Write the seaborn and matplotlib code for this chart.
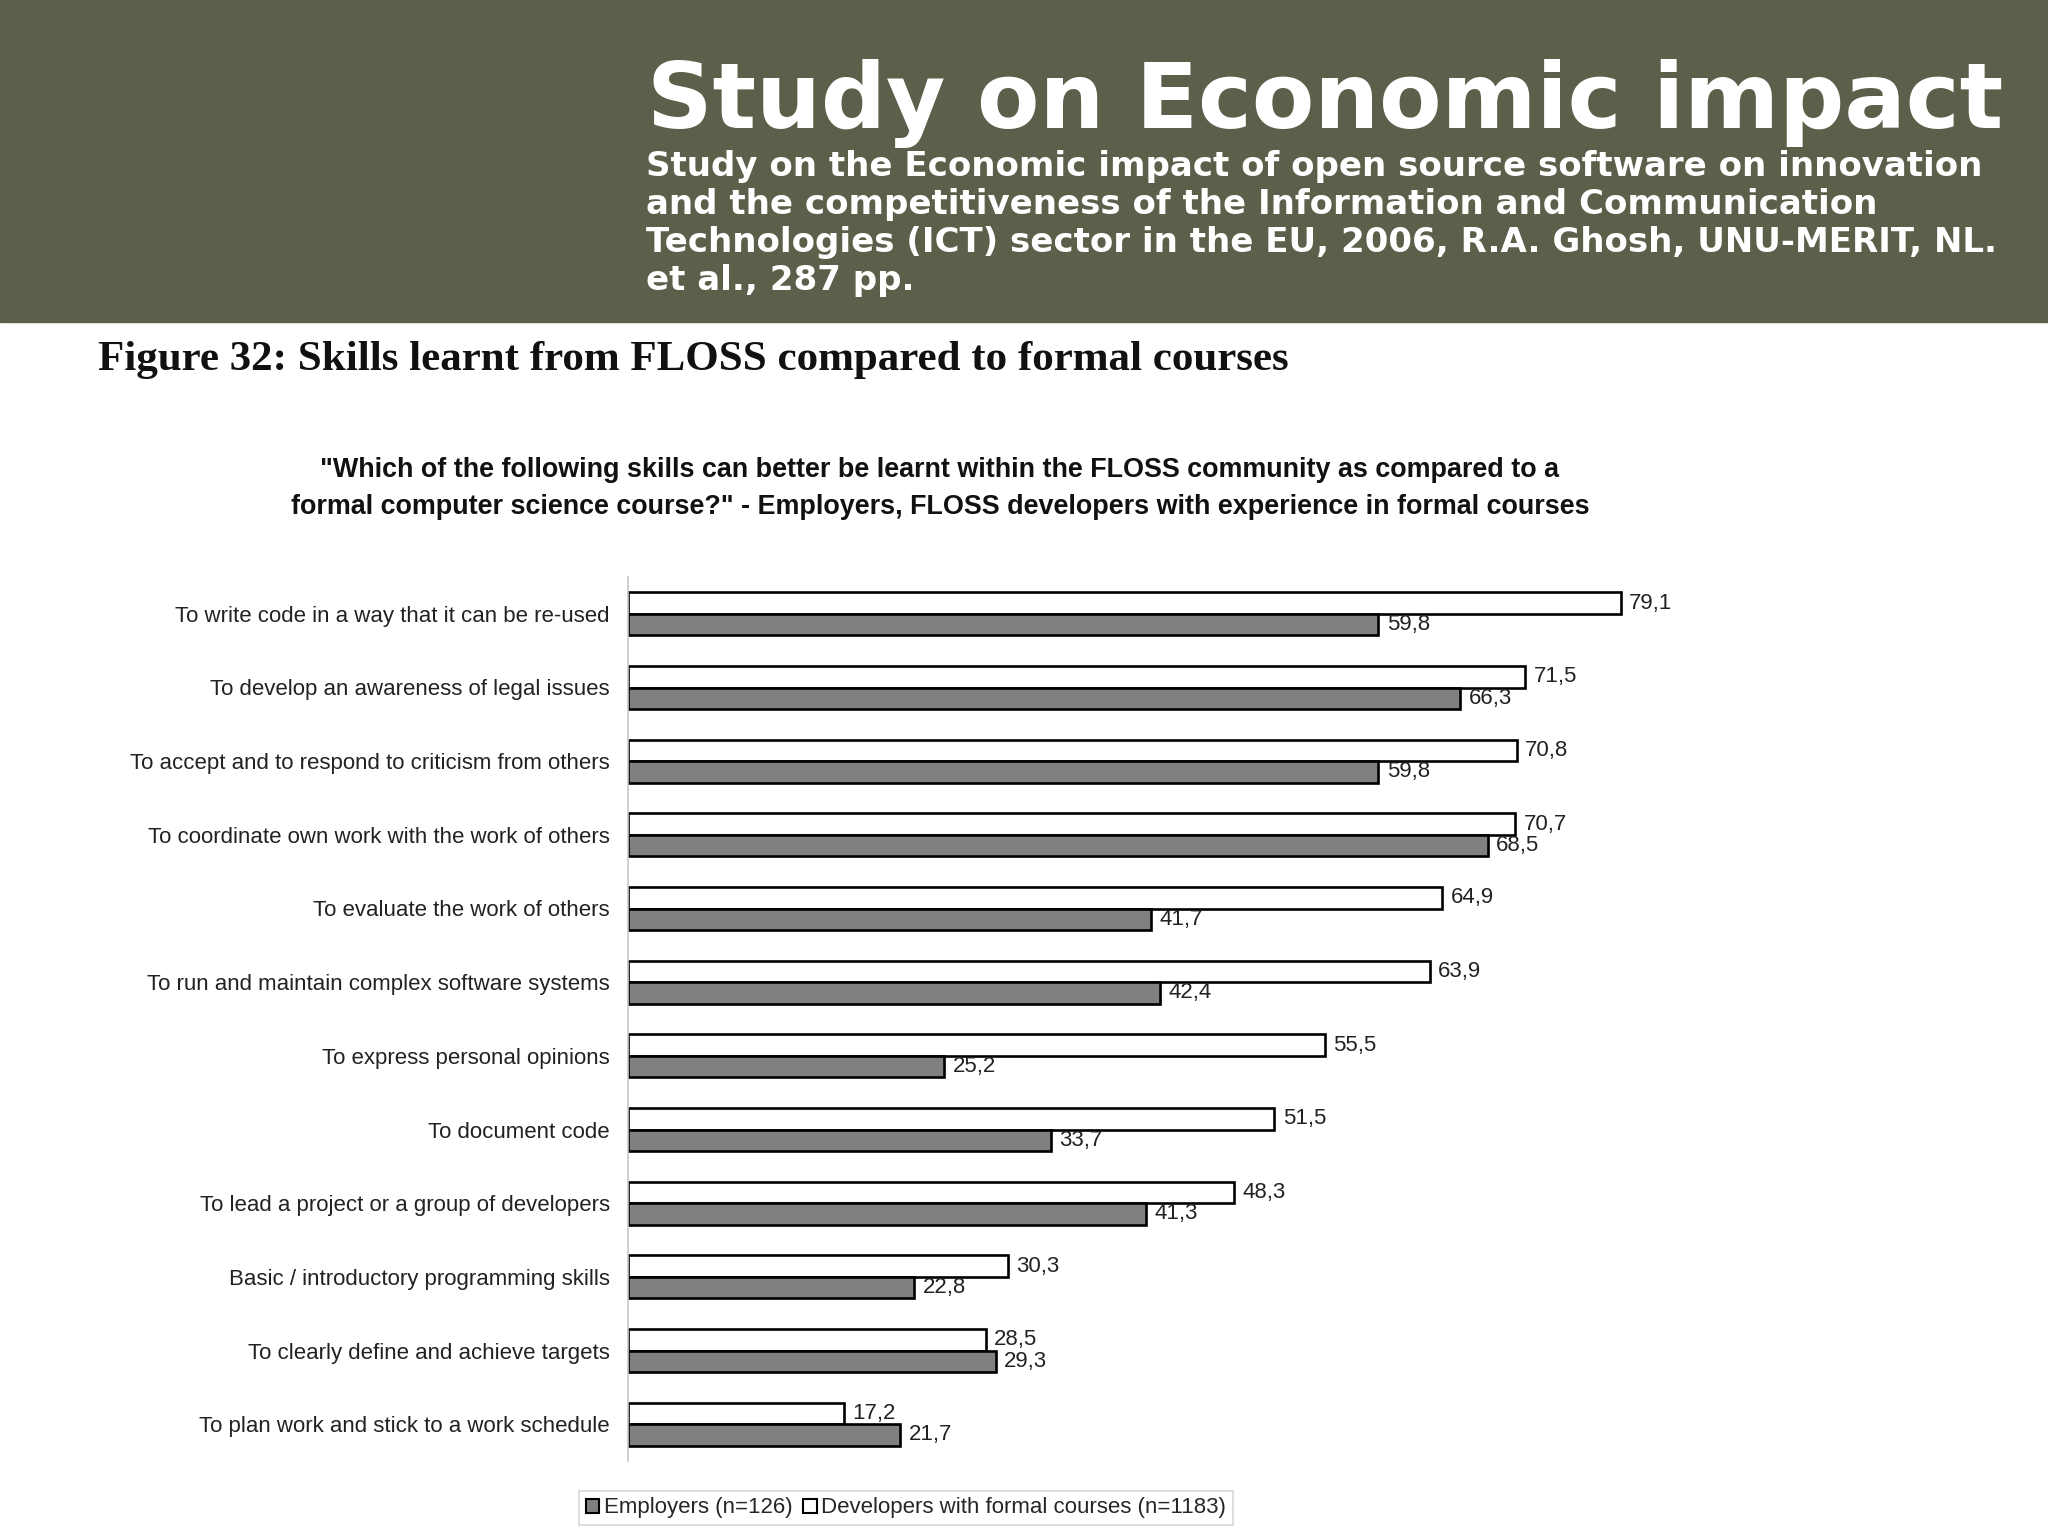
import pandas as pd
import matplotlib.pyplot as plt
import seaborn as sns
from matplotlib import font_manager
from matplotlib.patches import Rectangle

skills = [
    "To write code in a way that it can be re-used",
    "To develop an awareness of legal issues",
    "To accept and to respond to criticism from others",
    "To coordinate own work with the work of others",
    "To evaluate the work of others",
    "To run and maintain complex software systems",
    "To express personal opinions",
    "To document code",
    "To lead a project or a group of developers",
    "Basic / introductory programming skills",
    "To clearly define and achieve targets",
    "To plan work and stick to a work schedule",
]
developers = [79.1, 71.5, 70.8, 70.7, 64.9, 63.9, 55.5, 51.5, 48.3, 30.3, 28.5, 17.2]
employers = [59.8, 66.3, 59.8, 68.5, 41.7, 42.4, 25.2, 33.7, 41.3, 22.8, 29.3, 21.7]

dev_label = "Developers with formal courses (n=1183)"
emp_label = "Employers (n=126)"

df = pd.DataFrame({
    "skill": skills * 2,
    "value": developers + employers,
    "group": [dev_label] * len(skills) + [emp_label] * len(skills),
})

sns.set_style("white")
plt.rcParams["font.family"] = ["DejaVu Sans"]

names = {f.name for f in font_manager.fontManager.ttflist}
if "Liberation Sans Narrow" in names:
    narrow = ["Liberation Sans Narrow"]
    nsize = 19
else:
    narrow = ["Liberation Sans"]
    nsize = 16

fig = plt.figure(figsize=(20.48, 15.36), dpi=100)
W, H = 2048, 1536

# header band
fig.patches.append(Rectangle((0, 1 - 322 / H), 1, 322 / H, transform=fig.transFigure,
                             color="#5c5f4a", zorder=0))
fig.text(647 / W, 1 - 128 / H, "Study on Economic impact", color="white",
         fontsize=65.5, fontweight="bold", family="DejaVu Sans", va="baseline")
sub_lines = [
    "Study on the Economic impact of open source software on innovation",
    "and the competitiveness of the Information and Communication",
    "Technologies (ICT) sector in the EU, 2006, R.A. Ghosh, UNU-MERIT, NL.",
    "et al., 287 pp.",
]
for i, line in enumerate(sub_lines):
    fig.text(646 / W, 1 - (176 + 38 * i) / H, line, color="white", fontsize=24.5,
             fontweight="bold", family="DejaVu Sans", va="baseline")

fig.text(98 / W, 1 - 370 / H, "Figure 32: Skills learnt from FLOSS compared to formal courses",
         family="Liberation Serif", fontweight="bold", fontsize=31, va="baseline", color="#111111")

fig.text(940 / W, 1 - 477 / H,
         "\"Which of the following skills can better be learnt within the FLOSS community as compared to a",
         family="Liberation Sans", fontweight="bold", fontsize=19.4, ha="center", va="baseline",
         color="#111111")
fig.text(940 / W, 1 - 514 / H,
         "formal computer science course?\" - Employers, FLOSS developers with experience in formal courses",
         family="Liberation Sans", fontweight="bold", fontsize=19.4, ha="center", va="baseline",
         color="#111111")

ax = fig.add_axes([628 / W, 75 / H, 1255 / W, 884 / H])
sns.barplot(data=df, x="value", y="skill", hue="group", hue_order=[dev_label, emp_label],
            palette={dev_label: "white", emp_label: "#808080"}, orient="h", width=0.58,
            edgecolor="black", linewidth=1.9, ax=ax, legend=False)

ax.set_xlim(0, 100)
ax.set_ylim(len(skills) - 0.5, -0.5)
ax.set_xlabel("")
ax.set_ylabel("")
ax.set_xticks([])
for side in ["top", "right", "bottom"]:
    ax.spines[side].set_visible(False)
ax.spines["left"].set_color("#c8c8c8")
ax.spines["left"].set_linewidth(1.2)

ax.tick_params(axis="y", which="major", length=0, pad=13, labelsize=nsize, labelcolor="#222222")
for lab in ax.get_yticklabels():
    lab.set_family(narrow)
ax.set_yticks([i - 0.5 for i in range(len(skills) + 1)], minor=True)
ax.tick_params(axis="y", which="minor", length=4.5, color="#c8c8c8", width=1.2)

for cont, vals in zip(ax.containers, [developers, employers]):
    ax.bar_label(cont, labels=[f"{v:.1f}".replace(".", ",") for v in vals], padding=6,
                 fontsize=nsize, family=narrow, color="#222222")

handles = [Rectangle((0, 0), 1, 1, facecolor="#808080", edgecolor="black", linewidth=1.5),
           Rectangle((0, 0), 1, 1, facecolor="white", edgecolor="black", linewidth=1.5)]
leg = fig.legend(handles, [emp_label, dev_label], loc="center", bbox_to_anchor=(906 / W, 1 - 1508 / H),
                 ncol=2, frameon=True, fancybox=False, handlelength=0.6, handleheight=0.6,
                 handletextpad=0.2, columnspacing=0.5, borderpad=0.3, borderaxespad=0,
                 prop={"family": narrow, "size": nsize})
leg.get_frame().set_edgecolor("#cccccc")
leg.get_frame().set_linewidth(1.2)

fig.savefig("out.png", dpi=100)
